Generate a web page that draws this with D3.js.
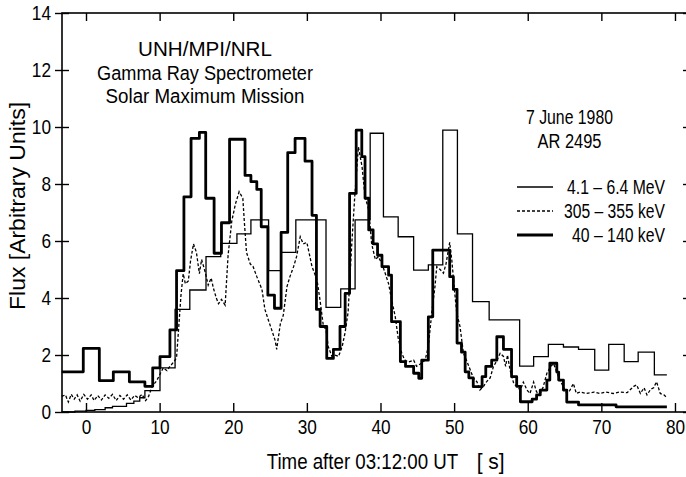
<!DOCTYPE html>
<html>
<head>
<meta charset="utf-8">
<script src="https://cdn.jsdelivr.net/npm/d3@7"></script>
<style>
  body { margin: 0; background: #fff; }
  svg text { font-family: "Liberation Sans", Arial, Helvetica, sans-serif; fill: #000; }
</style>
</head>
<body>
<svg id="chart" width="686" height="477"></svg>
<script>
// ---- axis ticks ----
const xTicks = [0, 10, 20, 30, 40, 50, 60, 70, 80];
const yTicks = [0, 2, 4, 6, 8, 10, 12, 14];

// ---- 4.1 - 6.4 MeV (step series: start time of each bin, flux) ----
const gammaT = [-3.3, -1.5, 0.0, 1.2, 2.6, 3.6, 5.5, 6.5, 7.3, 8.0, 10.05, 12.1, 14.1, 16.3, 18.3, 20.5,
  22.4, 24.8, 26.5, 28.5, 32.6, 34.6, 36.55, 38.6, 40.4, 42.4, 44.5, 46.5, 48.46, 50.45, 52.5, 54.76,
  58.9, 60.8, 62.8, 64.85, 66.9, 69.1, 71.0, 73.1, 75.0, 77.2];
const gammaV = [0.0, 0.03, 0.06, 0.08, 0.15, 0.2, 0.3, 0.38, 0.5, 0.75, 1.55, 3.6, 4.28, 5.45, 5.92, 6.25,
  6.74, 4.96, 5.6, 6.74, 3.67, 4.32, 6.74, 9.78, 6.85, 6.15, 4.98, 5.16, 9.89, 6.25, 3.87, 3.23,
  1.61, 1.94, 2.37, 2.28, 2.2, 1.47, 2.37, 1.77, 2.1, 1.3];
const gammaEnd = 78.9;

// ---- 305 - 355 keV (sampled series) ----
const midT = [-3.3, -2.8, -2.4, -2.0, -1.6, -1.2, -0.8, -0.3, 0.2, 0.7, 1.1, 1.6, 2.1, 2.6, 3.1, 3.6, 4.1, 4.6,
  5.1, 5.6, 6.1, 6.6, 7.1, 7.6, 8.1, 8.5, 9.0, 9.6, 10.0, 10.5, 11.0, 11.4, 11.9, 12.3, 12.6, 12.9, 13.2,
  13.5, 13.9, 14.2, 14.6, 15.0, 15.4, 15.7, 16.2, 16.6, 17.0, 17.3, 17.7, 18.0, 18.4, 18.9, 19.3, 19.8,
  20.3, 20.8, 21.3, 21.5, 21.8, 22.3, 22.7, 23.2, 23.9, 24.3, 24.8, 25.2, 25.7, 25.9, 26.4, 26.8, 27.3,
  27.7, 28.2, 28.6, 29.1, 29.5, 30.0, 30.7, 31.0, 31.4, 31.8, 32.25, 32.6, 32.9, 33.4, 33.8, 34.3, 34.8,
  35.2, 35.6, 36.1, 36.5, 37.0, 37.5, 37.9, 38.4, 38.8, 39.3, 39.7, 40.2, 40.6, 41.1, 41.5, 42.0, 42.4,
  42.9, 43.3, 43.8, 44.5, 44.9, 45.5, 46.06, 46.5, 46.96, 47.4, 47.64, 48.1, 48.55, 48.9, 49.4, 49.7,
  50.0, 50.36, 50.8, 51.27, 51.7, 52.2, 52.6, 53.1, 53.5, 54.0, 54.4, 54.9, 55.34, 55.8, 56.25, 56.7,
  57.0, 57.25, 57.6, 58.1, 58.5, 59.0, 59.4, 59.9, 60.3, 60.8, 61.2, 61.7, 62.1, 62.6, 63.1, 63.5, 64.0,
  64.4, 64.85, 65.3, 65.7, 66.2, 66.6, 67.1, 68.0, 69.0, 69.8, 70.6, 71.6, 72.5, 73.5, 74.4, 74.8, 75.3,
  75.8, 76.2, 76.7, 77.1, 77.5, 78.0, 78.5, 78.9];
const midV = [0.55, 0.6, 0.35, 0.62, 0.45, 0.6, 0.38, 0.62, 0.45, 0.6, 0.4, 0.58, 0.42, 0.6, 0.48, 0.62, 0.4, 0.58,
  0.45, 0.6, 0.42, 0.58, 0.5, 0.62, 0.4, 0.55, 0.9, 1.1, 1.3, 1.55, 1.45, 1.6, 1.75, 1.9, 3.0, 4.1, 4.85,
  4.5, 4.6, 5.3, 5.9, 5.6, 4.85, 5.35, 4.9, 4.45, 4.7, 4.35, 4.0, 3.8, 3.95, 3.75, 5.5, 6.7,
  7.3, 7.73, 7.5, 6.7, 5.6, 5.2, 5.1, 4.75, 4.3, 3.6, 3.2, 2.9, 2.5, 2.2, 3.1, 3.4, 4.4,
  4.75, 5.1, 5.45, 6.15, 5.9, 5.95, 5.1, 4.9, 4.6, 3.9, 3.0, 2.9, 2.3, 1.95, 2.0, 1.95, 2.3,
  2.8, 3.5, 5.9, 7.55, 9.3, 8.6, 7.55, 7.1, 5.9, 5.35, 5.45, 5.2, 4.9, 4.5, 3.95, 3.35, 2.6,
  2.05, 1.82, 1.75, 1.82, 1.6, 1.7, 1.82, 2.3, 3.47, 4.4, 5.1, 5.0, 4.87, 5.2, 5.95, 5.3,
  4.4, 3.47, 3.0, 2.06, 1.8, 1.47, 1.2, 1.06, 0.77, 0.9, 1.06, 1.2, 1.59, 1.8, 2.06, 1.95,
  1.6, 2.0, 1.47, 1.0, 0.9, 0.77, 1.05, 0.77, 0.65, 1.05, 0.7, 0.65, 0.88, 1.36, 1.59, 1.7, 1.36,
  1.1, 0.88, 0.65, 0.75, 1.0, 0.65, 0.7, 0.65, 0.7, 0.65, 0.7, 0.65, 0.7, 0.68, 0.9, 0.95, 0.65,
  0.85, 0.6, 0.8, 0.85, 1.06, 0.65, 0.6, 0.5];

// ---- 40 - 140 keV (step series: start time of each bin, flux) ----
const hardT = [-3.3, -0.37, 1.81, 3.71, 5.89, 8.0, 9.06, 10.05, 11.4, 12.3, 13.3, 14.27, 15.4, 16.26, 17.4, 18.4,
  19.5, 21.6, 22.4, 23.2, 23.8, 24.7, 25.6, 26.5, 27.4, 28.4, 29.75, 30.7, 31.3, 31.8, 32.7, 33.6, 34.5,
  35.2, 35.8, 36.7, 37.46, 37.9, 38.4, 39.0, 39.6, 40.2, 41.1, 41.5, 42.7, 43.4, 44.5, 45.2, 45.6, 46.5,
  47.1, 49.4, 49.9, 50.4, 51.0, 51.5, 52.0, 52.6, 53.8, 54.3, 55.1, 55.8, 56.7, 57.8, 58.5, 59.0, 60.6,
  61.2, 61.7, 62.6, 63.0, 63.95, 64.2, 64.85, 65.3, 66.9, 72.0];
const hardV = [1.41, 2.23, 1.10, 1.41, 1.06, 0.90, 1.55, 1.94, 2.88, 4.96, 7.55, 9.6, 9.81, 7.5, 5.57, 6.64,
  9.57, 8.3, 8.08, 7.81, 6.5, 4.1, 3.64, 6.3, 9.1, 9.6, 8.8, 6.9, 3.6, 3.0, 1.88, 2.2, 3.0,
  4.16, 7.67, 9.89, 8.96, 7.5, 6.39, 5.9, 5.5, 5.1, 4.8, 3.17, 1.77, 1.6, 1.36, 1.18, 1.82, 3.34,
  5.68, 4.75, 4.3, 2.42, 2.1, 1.41, 1.2, 0.89, 1.24, 1.6, 1.82, 2.64, 2.2, 1.24, 0.9, 0.36, 0.45,
  0.6, 0.77, 1.12, 1.71, 1.4, 1.12, 0.77, 0.35, 0.25, 0.18];
const hardEnd = 78.9;

const seriesNames = ["4.1 \u2013 6.4 MeV", "305 \u2013 355 keV", "40 \u2013 140 keV"];
const titleLines = ["UNH/MPI/NRL", "Gamma Ray Spectrometer", "Solar Maximum Mission"];
const eventLines = ["7 June 1980", "AR 2495"];

// ---- layout ----
const svg = d3.select("#chart");
const plot = { left: 62, top: 13, right: 690, bottom: 412 };
const x = d3.scaleLinear().domain([-3.26, 82.04]).range([plot.left, plot.right]);
const y = d3.scaleLinear().domain([0, 14]).range([plot.bottom, plot.top]);
const SX = 0.82; // horizontal squeeze for the narrow numerals

// condense a text horizontally by a fixed factor, keeping its anchor point
function squeeze(sel, sx) {
  sel.each(function () {
    const t = d3.select(this);
    const xv = +t.attr("x") || 0;
    t.attr("x", xv / sx).attr("transform", `scale(${sx},1)`);
  });
}

// condensed text of a given overall width, anchored at (ax, base)
function narrowText(txt, ax, base, width, size, anchor) {
  const t = svg.append("text").attr("font-size", size).attr("text-anchor", anchor || "start").text(txt);
  const natural = t.node().getComputedTextLength();
  const sx = width / natural;
  t.attr("x", ax / sx).attr("y", base).attr("transform", `scale(${sx},1)`);
  return t;
}

// frame
svg.append("rect")
  .attr("x", plot.left).attr("y", plot.top)
  .attr("width", plot.right - plot.left).attr("height", plot.bottom - plot.top)
  .attr("fill", "none").attr("stroke", "#000").attr("stroke-width", 1.6);

// bottom axis: inward ticks + labels
const gx = svg.append("g").attr("transform", `translate(0,${plot.bottom})`)
  .call(d3.axisBottom(x).tickValues(xTicks).tickSizeInner(-9).tickSizeOuter(0).tickPadding(7).tickFormat(d3.format("d")));
gx.select(".domain").remove();
gx.selectAll("line").attr("stroke", "#000").attr("stroke-width", 1.4);
gx.selectAll("text").attr("font-size", 21).attr("dy", "0.72em").attr("fill", "#000");
squeeze(gx.selectAll("text"), SX);

// top axis: inward ticks
const gt = svg.append("g").attr("transform", `translate(0,${plot.top})`)
  .call(d3.axisTop(x).tickValues(xTicks).tickSizeInner(-8).tickSizeOuter(0).tickFormat(""));
gt.select(".domain").remove();
gt.selectAll("line").attr("stroke", "#000").attr("stroke-width", 1.4);

// left axis: ticks crossing the frame + labels
const gy = svg.append("g").attr("transform", `translate(${plot.left},0)`)
  .call(d3.axisLeft(y).tickValues(yTicks).tickSizeInner(7).tickSizeOuter(0).tickPadding(4).tickFormat(d3.format("d")));
gy.select(".domain").remove();
gy.selectAll("line").attr("stroke", "#000").attr("stroke-width", 1.4).attr("x2", 7).attr("x1", -7);
gy.selectAll("text").attr("font-size", 21).attr("fill", "#000");
squeeze(gy.selectAll("text"), SX);

// right axis: inward ticks
const gr = svg.append("g").attr("transform", `translate(${plot.right},0)`)
  .call(d3.axisRight(y).tickValues(yTicks).tickSizeInner(-7).tickSizeOuter(0).tickFormat(""));
gr.select(".domain").remove();
gr.selectAll("line").attr("stroke", "#000").attr("stroke-width", 1.4);

// ---- series ----
function steps(ts, vs, tEnd) {
  const pts = ts.map((t, i) => [t, vs[i]]);
  pts.push([tEnd, vs[vs.length - 1]]);
  return pts;
}
const stepLine = d3.line().x(d => x(d[0])).y(d => y(d[1])).curve(d3.curveStepAfter);
const plainLine = d3.line().x(d => x(d[0])).y(d => y(d[1]));

svg.append("path").datum(steps(gammaT, gammaV, gammaEnd))
  .attr("d", stepLine).attr("fill", "none").attr("stroke", "#000").attr("stroke-width", 1.3);

svg.append("path").datum(midT.map((t, i) => [t, midV[i]]))
  .attr("d", plainLine).attr("fill", "none").attr("stroke", "#000").attr("stroke-width", 1.3)
  .attr("stroke-dasharray", "3,2");

svg.append("path").datum(steps(hardT, hardV, hardEnd))
  .attr("d", stepLine).attr("fill", "none").attr("stroke", "#000").attr("stroke-width", 2.8)
  .attr("stroke-linejoin", "round");

// ---- annotations ----
const titleLen = [134, 216, 199];
const titleBase = [56, 80, 103];
titleLines.forEach((s, i) => narrowText(s, 205, titleBase[i], titleLen[i], 21, "middle"));

const eventLen = [87, 64];
const eventBase = [124, 148];
eventLines.forEach((s, i) => narrowText(s, 569.5, eventBase[i], eventLen[i], 21, "middle"));

// legend
const legY = [187, 211, 235];
const legLen = [98, 101, 93];
const legStyle = [
  { w: 1.3, dash: null },
  { w: 1.3, dash: "3,2" },
  { w: 2.8, dash: null }
];
seriesNames.forEach((s, i) => {
  svg.append("line").attr("x1", 517).attr("x2", 553).attr("y1", legY[i]).attr("y2", legY[i])
    .attr("stroke", "#000").attr("stroke-width", legStyle[i].w)
    .attr("stroke-dasharray", legStyle[i].dash);
  narrowText(s, 665, legY[i] + 7.5, legLen[i], 21, "end");
});

// axis titles
narrowText("Time  after 03:12:00 UT", 266.7, 469, 191.6, 22, "start");
narrowText("[ s]", 476.7, 469, 28, 22, "start");

svg.append("text").attr("transform", "translate(25,206) rotate(-90)")
  .attr("text-anchor", "middle").attr("font-size", 22)
  .attr("textLength", 208).attr("lengthAdjust", "spacingAndGlyphs").text("Flux  [Arbitrary Units]");
</script>
</body>
</html>
